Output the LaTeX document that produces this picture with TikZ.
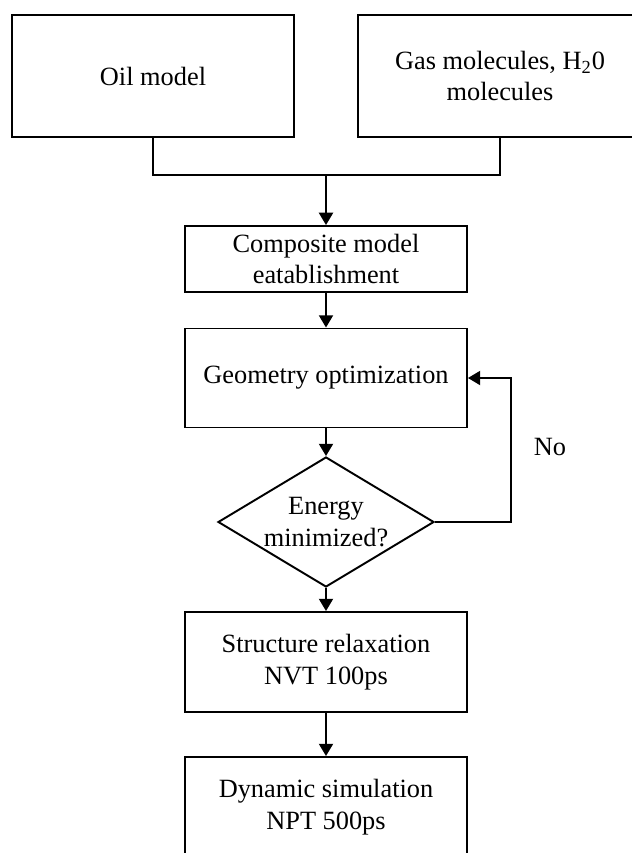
\documentclass[tikz,border=0pt]{standalone}
\usepackage{fontspec}
\setmainfont{Liberation Serif}
\usetikzlibrary{shapes.geometric,arrows.meta}

\tikzset{
  box/.style={draw, line width=1.1pt, align=center, inner sep=0pt},
  decision/.style={draw, diamond, line width=1.1pt, align=center, inner sep=0pt, aspect=1.66},
  flow/.style={line width=1.1pt, -{Triangle[length=7pt, width=8pt]}},
  link/.style={line width=1.1pt}
}

\begin{document}
\begin{tikzpicture}[x=0.02cm, y=-0.02cm, font=\fontsize{15}{18}\selectfont]
\useasboundingbox (0,0) rectangle (632,853);
\clip (0,0) rectangle (632,853);
% input boxes
\node [box, minimum width=5.64cm, minimum height=2.44cm] (oil) at (153,76) {Oil model};
\node [box, minimum width=5.68cm, minimum height=2.44cm] (gas) at (500,76) {Gas molecules, H\textsubscript{2}0\\molecules};
\coordinate (join) at (326,175);
% main column
\node [box, minimum width=5.64cm, minimum height=1.32cm] (comp) at (326,259) {Composite model\\eatablishment};
\node [box, minimum width=5.64cm, minimum height=1.98cm] (geom) at (326,378) {Geometry optimization};
\node [decision, minimum width=4.32cm, minimum height=2.6cm] (energy) at (326,522) {Energy\\minimized?};
\node [box, minimum width=5.64cm, minimum height=2cm] (relax) at (326,662) {Structure relaxation\\NVT 100ps};
\node [box, minimum width=5.64cm, minimum height=2cm] (dyn) at (326,807) {Dynamic simulation\\NPT 500ps};
\node (no) at (550,447) {No};
% connectors
\draw [link] (oil.south) |- (join) -| (gas.south);
\draw [flow] (join) -- (comp.north);
\draw [flow] (comp) -- (geom);
\draw [flow] (geom) -- (energy);
\draw [flow] (energy.east) -- ++(76,0) |- (geom.east);
\draw [flow] (energy) -- (relax);
\draw [flow] (relax) -- (dyn);
\end{tikzpicture}
\end{document}
